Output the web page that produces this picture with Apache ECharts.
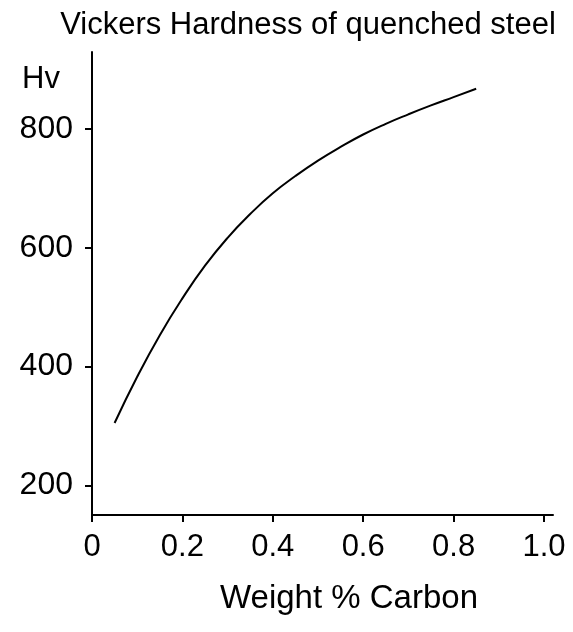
<!DOCTYPE html>
<html>
<head>
<meta charset="utf-8">
<script src="https://cdn.jsdelivr.net/npm/echarts@6/dist/echarts.min.js"></script>
<style>
html,body{margin:0;padding:0;background:#fff;}
#chart{width:573px;height:632px;}
</style>
</head>
<body>
<div id="chart"></div>
<script>
const carbon = [0.05,0.10,0.15,0.20,0.25,0.30,0.35,0.40,0.45,0.50,0.55,0.60,0.65,0.70,0.75,0.80,0.85];
const hardness = [305,383,453,515,570,617,657,692,721,747,770,791,809,825,840,854,868];
const xTicks = [0,0.2,0.4,0.6,0.8,1.0];
const xTickLabels = ['0','0.2','0.4','0.6','0.8','1.0'];
const yTicks = [200,400,600,800];

const chart = echarts.init(document.getElementById('chart'));
const font = 'Liberation Sans, Arial, sans-serif';
chart.setOption({
  animation:false,
  backgroundColor:'#fff',
  title:{text:'Vickers Hardness of quenched steel',left:303,top:5,textAlign:'center',
    textStyle:{fontFamily:font,fontSize:31,fontWeight:'normal',color:'#000'}},
  graphic:[
    {type:'text',left:22,top:64,style:{text:'Hv',fontFamily:font,fontSize:31,fill:'#000'}},
    {type:'text',x:349,y:599,style:{text:'Weight % Carbon',fontFamily:font,fontSize:33,fill:'#000',align:'center',verticalAlign:'middle'}}
  ],
  grid:{left:92,top:52,right:20,bottom:117,containLabel:false},
  xAxis:{type:'value',min:0,max:1.02,
    axisLine:{lineStyle:{color:'#000',width:2}},
    axisTick:{show:true,length:7,lineStyle:{color:'#000',width:2},customValues:xTicks},
    axisLabel:{customValues:xTicks,fontFamily:font,fontSize:31,color:'#000',margin:17,
      formatter:function(v){const i=xTicks.findIndex(t=>Math.abs(t-v)<1e-9);return i>=0?xTickLabels[i]:'';}},
    splitLine:{show:false}},
  yAxis:{type:'value',min:150,max:930,
    axisLine:{show:true,lineStyle:{color:'#000',width:2}},
    axisTick:{show:true,length:7,lineStyle:{color:'#000',width:2},customValues:yTicks},
    axisLabel:{customValues:yTicks,fontFamily:font,fontSize:32,color:'#000',margin:19},
    splitLine:{show:false}},
  series:[{type:'line',data:carbon.map((c,i)=>[c,hardness[i]]),smooth:true,showSymbol:false,
    lineStyle:{color:'#000',width:2}}]
});
</script>
</body>
</html>
